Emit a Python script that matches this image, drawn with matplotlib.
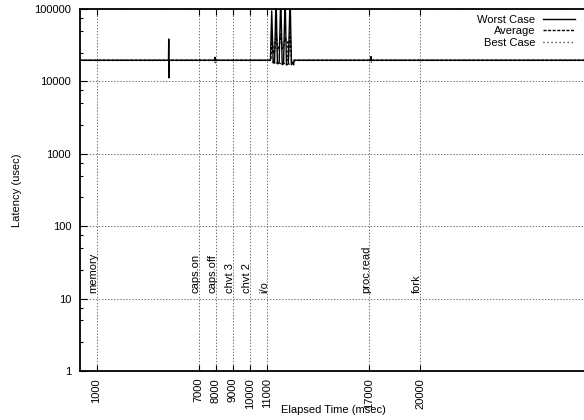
import matplotlib

matplotlib.use("Agg")
import matplotlib.pyplot as plt
from matplotlib.ticker import NullFormatter, NullLocator

# latency samples: elapsed time (msec) and latency (usec) per series
worst_t = [0, 5225, 5240, 5250, 5265, 7940, 7955, 7970, 11210, 11285, 11370, 11450, 11540,
           11620, 11720, 11815, 11900, 11980, 12070, 12150, 12260, 12365, 12440, 12520,
           12560, 12620, 17100, 17115, 17130, 30000]
worst_v = [19600, 19600, 38500, 11200, 19600, 19600, 21500, 19600, 19600, 94000, 18000, 18200,
           150000, 17500, 17800, 150000, 17000, 17500, 150000, 16800, 17500, 150000, 17000,
           18500, 17000, 19600, 19600, 22000, 19600, 19600]

avg_t = [0, 11230, 11300, 11380, 11460, 11545, 11630, 11720, 11820, 11910, 11990, 12075,
         12160, 12230, 12250, 12370, 12450, 12540, 30000]
avg_v = [19550, 19550, 42000, 24000, 26000, 48000, 27000, 30000, 45000, 28000, 31000, 40000,
         35000, 35000, 19500, 47000, 19000, 19550, 19550]

best_t = [0, 5250, 5265, 5280, 7950, 7965, 7980, 11250, 11330, 11400, 11500, 11600, 11700,
          11880, 11960, 12120, 12200, 12400, 12480, 12580, 12640, 17110, 17125, 17140, 30000]
best_v = [19450, 19450, 11500, 19450, 19450, 18200, 19450, 19450, 18800, 17200, 19000, 17000,
          18800, 16600, 18500, 16500, 18000, 16800, 18500, 17000, 19450, 19450, 17800, 19450,
          19450]

xtick_pos = [1000, 7000, 8000, 9000, 10000, 11000, 17000, 20000]
xtick_labels = ["1000", "7000", "8000", "9000", "10000", "11000", "17000", "20000"]

event_pos = [1000, 7000, 8000, 9000, 10000, 11000, 17000, 20000]
event_names = ["memory", "caps.on", "caps.off", "chvt 3", "chvt 2", "i/o", "proc.read", "fork"]
event_y = 12

ytick_pos = [1, 10, 100, 1000, 10000, 100000]
ytick_labels = ["1", "10", "100", "1000", "10000", "100000"]
ytick_minor = [m * 10 ** k for k in range(5) for m in (2.5, 5, 7.5)]

plt.rcParams["font.family"] = ["Liberation Sans", "DejaVu Sans"]
plt.rcParams["font.size"] = 8
plt.rcParams["lines.scale_dashes"] = False

fig = plt.figure(figsize=(5.84, 4.2), dpi=100)
ax = fig.add_axes([79.5 / 584, 49 / 420, 511 / 584, 362 / 420])

ax.plot(worst_t, worst_v, color="black", lw=1.0, ls="-", label="Worst Case")
ax.plot(avg_t, avg_v, color="black", lw=1.0, ls=(0, (2.2, 1.1)), label="Average")
ax.plot(best_t, best_v, color="black", lw=1.0, ls=(0, (0.7, 2.2)), label="Best Case")

ax.set_yscale("log")
ax.set_xlim(0, 30000)
ax.set_ylim(1, 100000)

ax.set_yticks(ytick_pos, ytick_labels)
ax.set_yticks(ytick_minor, minor=True)
ax.yaxis.set_minor_formatter(NullFormatter())
ax.set_xticks(xtick_pos, xtick_labels, rotation=90)
ax.xaxis.set_minor_locator(NullLocator())

ax.tick_params(which="both", direction="in", top=True, right=True, width=0.8, colors="black")
ax.tick_params(axis="y", which="major", length=5, pad=6)
ax.tick_params(axis="y", which="minor", length=2.5)
ax.tick_params(axis="x", which="major", length=4.5, pad=5)

ax.grid(True, which="major", color="0.35", lw=0.6, ls=(0, (1, 1.2)))
ax.set_axisbelow(True)
for s in ax.spines.values():
    s.set_linewidth(1.3)

for x, name in zip(event_pos, event_names):
    ax.text(x, event_y, name, rotation=90, rotation_mode="anchor",
            ha="left", va="baseline", fontsize=8)

ax.set_xlabel("Elapsed Time (msec)", fontsize=8)
ax.xaxis.label.set_va("center")
ax.xaxis.set_label_coords(0.497, -0.108)
ax.set_ylabel("Latency (usec)", fontsize=8)
ax.yaxis.label.set_va("center")
ax.yaxis.set_label_coords(-0.122, 0.5)

# key with the labels first; rows pack right-aligned so the labels line up on the right
ax.legend(loc="upper right", bbox_to_anchor=(575 / 584, 1 - 15 / 420),
          bbox_transform=fig.transFigure, frameon=False, markerfirst=False,
          handlelength=2.9, handletextpad=0.7, labelspacing=0.12,
          borderpad=0, borderaxespad=0, fontsize=8)

fig.savefig("out.png", dpi=100)
